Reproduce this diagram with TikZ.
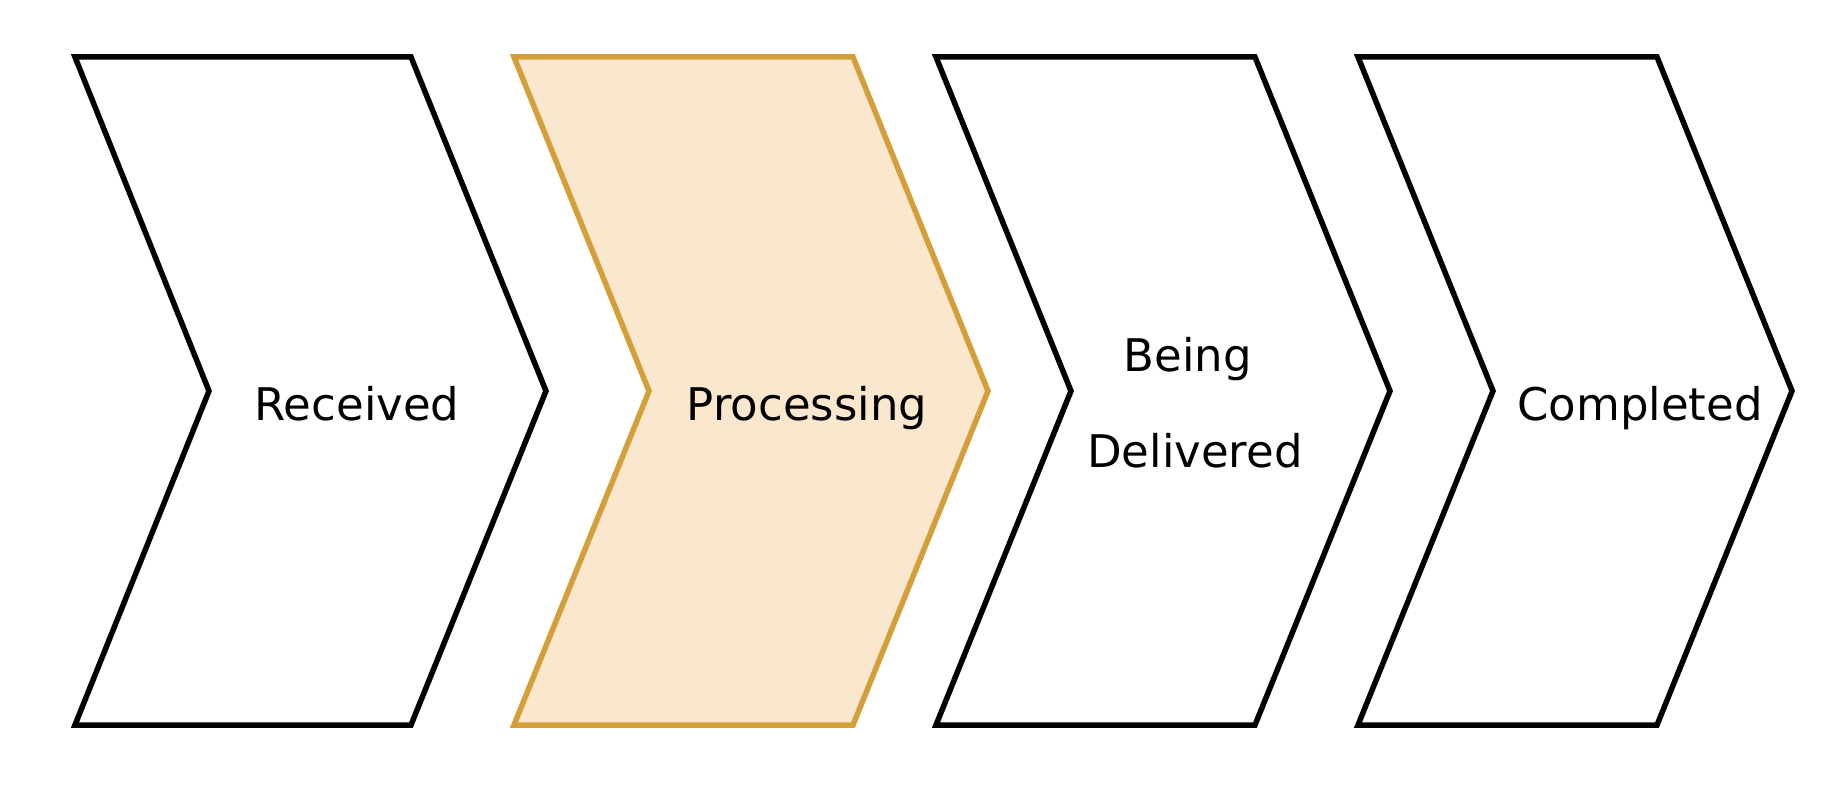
\documentclass[tikz,border=0pt]{standalone}
\usepackage{fontspec}
\setmainfont{DejaVu Sans}
\definecolor{procfill}{RGB}{251,231,206}
\definecolor{procdraw}{RGB}{212,158,56}

\begin{document}
\begin{tikzpicture}[x=1pt,y=-1pt]
		\tikzset{stage/.style = {draw=black, line width=5.5pt, fill=white}}
		\tikzset{current/.style = {stage, draw=procdraw, fill=procfill}}
		\tikzset{stagetext/.style = {anchor=base, inner sep=0pt, font=\fontsize{45}{54}\selectfont}}
		\useasboundingbox (0,0) rectangle (1832,802);
		% stages
		\draw[stage] (75,57) -- (411,57) -- (546,391) -- (411,725) -- (75,725) -- (209,391) -- cycle;
		
		\draw[current] (514,57) -- (853,57) -- (988,391) -- (853,725) -- (514,725) -- (649,391) -- cycle;
		
		\draw[stage] (936,57) -- (1255,57) -- (1390,391) -- (1255,725) -- (936,725) -- (1071,391) -- cycle;
		
		\draw[stage] (1358,57) -- (1657,57) -- (1792,391) -- (1657,725) -- (1358,725) -- (1493,391) -- cycle;
		
		% labels
		\node[stagetext] (received) at (357,420) {Received};
		\node[stagetext] (processing) at (807,420) {Processing};
		\node[stagetext] (being) at (1188,372) {Being};
		\node[stagetext] (delivered) at (1195,467) {Delivered};
		\node[stagetext] (completed) at (1640,420) {Completed};
		
\end{tikzpicture}
\end{document}
